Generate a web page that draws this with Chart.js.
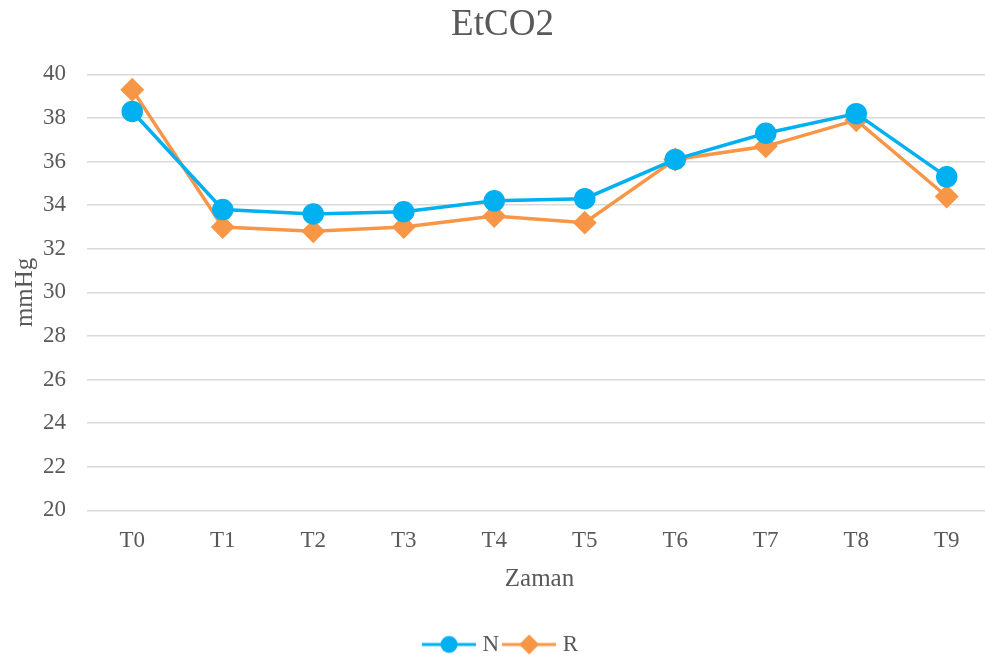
<!DOCTYPE html>
<html>
<head>
<meta charset="utf-8">
<script src="https://cdn.jsdelivr.net/npm/chart.js@4"></script>
<style>
  html, body { margin: 0; padding: 0; background: #fff; overflow: hidden; }
  #wrap { width: 1005px; height: 658px; }
</style>
</head>
<body>
<div id="wrap"><canvas id="chart"></canvas></div>
<script>
const categories = ["T0", "T1", "T2", "T3", "T4", "T5", "T6", "T7", "T8", "T9"];
const seriesN = [38.3, 33.8, 33.6, 33.7, 34.2, 34.3, 36.1, 37.3, 38.2, 35.3];
const seriesR = [39.3, 33.0, 32.8, 33.0, 33.5, 33.2, 36.1, 36.7, 37.9, 34.4];
const yTicks = [20, 22, 24, 26, 28, 30, 32, 34, 36, 38, 40];

const blue = "#00B0F0";
const orange = "#F79646";
const textColor = "#595959";
const fontFamily = "'Liberation Serif', 'Times New Roman', serif";

// legend icon: short line with the marker in the middle
function legendIcon(color, shape) {
    const c = document.createElement("canvas");
    c.width = 54; c.height = 22;
    const g = c.getContext("2d");
    g.strokeStyle = color;
    g.lineWidth = 3;
    g.beginPath(); g.moveTo(0, 11); g.lineTo(54, 11); g.stroke();
    g.fillStyle = color;
    g.beginPath();
    if (shape === "circle") {
        g.arc(27, 11, 8.5, 0, Math.PI * 2);
    } else {
        g.moveTo(27, 1); g.lineTo(37, 11); g.lineTo(27, 21); g.lineTo(17, 11); g.closePath();
    }
    g.fill();
    return c;
}
const iconN = legendIcon(blue, "circle");
const iconR = legendIcon(orange, "diamond");

new Chart(document.getElementById("chart").getContext("2d"), {
    type: "line",
    data: {
        labels: categories,
        datasets: [{
            label: "N",
            data: seriesN,
            borderColor: blue,
            backgroundColor: blue,
            borderWidth: 3.5,
            pointStyle: "circle",
            pointRadius: 9,
            pointHoverRadius: 9,
            tension: 0
        }, {
            label: "R",
            data: seriesR,
            borderColor: orange,
            backgroundColor: orange,
            borderWidth: 3.5,
            pointStyle: "rectRot",
            pointRadius: 9.5,
            pointHoverRadius: 9.5,
            tension: 0
        }]
    },
    options: {
        responsive: true,
        maintainAspectRatio: false,
        animation: false,
        layout: { padding: { left: 0, right: 0, top: 0, bottom: -8 } },
        plugins: {
            title: {
                display: true,
                text: "EtCO2",
                color: textColor,
                font: { family: fontFamily, size: 37, weight: "normal" },
                padding: { top: 3, bottom: 27 }
            },
            legend: {
                position: "bottom",
                labels: {
                    usePointStyle: true,
                    pointStyleWidth: 44,
                    color: textColor,
                    font: { family: fontFamily, size: 23 },
                    boxWidth: 44,
                    boxHeight: 20,
                    padding: 8,
                    generateLabels: function (chart) {
                        return chart.data.datasets.map(function (ds, i) {
                            return {
                                text: ds.label,
                                fillStyle: ds.backgroundColor,
                                strokeStyle: ds.borderColor,
                                lineWidth: 0,
                                pointStyle: i === 0 ? iconN : iconR,
                                fontColor: textColor,
                                datasetIndex: i
                            };
                        });
                    }
                }
            },
            tooltip: { enabled: false }
        },
        scales: {
            x: {
                offset: true,
                grid: { display: false },
                border: { color: "#d9d9d9" },
                ticks: { color: textColor, font: { family: fontFamily, size: 23 }, padding: 9 },
                title: {
                    display: true,
                    text: "Zaman",
                    color: textColor,
                    font: { family: fontFamily, size: 25 },
                    padding: { top: 0, bottom: 31 }
                }
            },
            y: {
                min: 20,
                max: 40,
                afterBuildTicks: function (axis) {
                    axis.ticks = yTicks.map(function (v) { return { value: v }; });
                },
                afterFit: function (axis) { axis.width = 87; },
                grid: { color: "#d9d9d9", lineWidth: 1.5, drawTicks: false },
                border: { display: false },
                ticks: { color: textColor, font: { family: fontFamily, size: 23 }, padding: 21 },
                title: {
                    display: true,
                    text: "mmHg",
                    color: textColor,
                    font: { family: fontFamily, size: 25 },
                    padding: { top: 10, bottom: 3 }
                }
            }
        }
    }
});
</script>
</body>
</html>
